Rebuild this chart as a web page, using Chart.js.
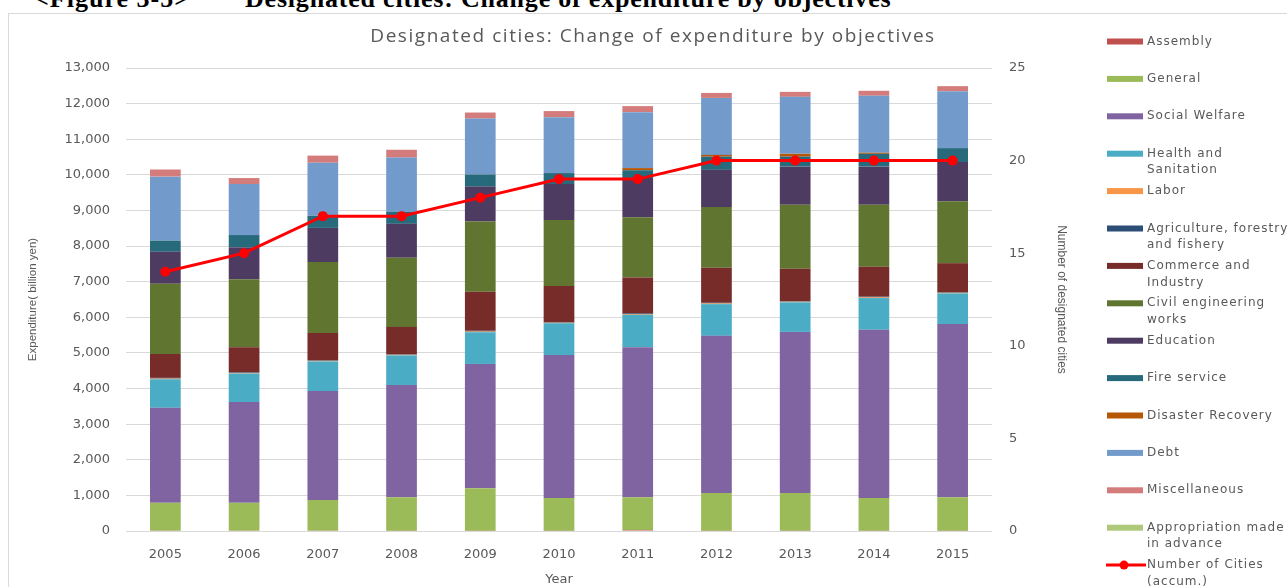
<!DOCTYPE html>
<html>
<head>
<meta charset="utf-8">
<script src="https://cdn.jsdelivr.net/npm/chart.js@4.4.1/dist/chart.umd.min.js"></script>
<style>
  body { margin: 0; background: #fff; overflow: hidden; }
  #wrap { position: relative; width: 1287px; height: 587px; overflow: hidden; }
  #frame { position: absolute; left: 8px; top: 13px; width: 1300px; height: 600px; border: 1px solid #d9d9d9; box-sizing: border-box; }
  .caption { position: absolute; top: -14px; font: bold 26px "Liberation Serif", serif; line-height: 26px; color: #000; white-space: nowrap; }
  canvas { position: absolute; left: 0; top: 0; }
</style>
</head>
<body>
<div id="wrap">
  <div id="frame"></div>
  <div class="caption" style="left:34px; letter-spacing:1px">&lt;Figure 3-5&gt;</div>
  <div class="caption" style="left:245px; letter-spacing:0.8px">Designated cities: Change of expenditure by objectives</div>
  <canvas id="chart" width="1287" height="587"></canvas>
</div>
<script>
const years = ["2005", "2006", "2007", "2008", "2009", "2010", "2011", "2012", "2013", "2014", "2015"];

// expenditure by objective, billion yen
const assembly    = [10, 10, 10, 10, 10, 10, 30, 10, 10, 10, 10];
const general     = [780, 780, 860, 940, 1190, 920, 920, 1060, 1060, 920, 940];
const welfare     = [2670, 2830, 3060, 3150, 3490, 4010, 4210, 4410, 4520, 4720, 4860];
const health      = [800, 800, 830, 830, 890, 890, 910, 890, 830, 890, 860];
const labor       = [20, 20, 20, 20, 20, 20, 20, 20, 20, 20, 20];
const agriculture = [20, 20, 20, 20, 20, 20, 20, 20, 20, 20, 20];
const commerce    = [670, 700, 760, 760, 1100, 1010, 1010, 980, 900, 840, 810];
const civil       = [1970, 1910, 1990, 1940, 1970, 1850, 1690, 1710, 1800, 1740, 1740];
const education   = [900, 900, 960, 955, 980, 1010, 1100, 1040, 1070, 1070, 1100];
const fire        = [310, 340, 340, 340, 340, 310, 220, 370, 280, 360, 390];
const disaster    = [0, 0, 0, 0, 0, 0, 60, 50, 80, 30, 0];
const debt        = [1800, 1430, 1490, 1520, 1570, 1570, 1570, 1600, 1600, 1600, 1600];
const misc        = [200, 170, 200, 220, 170, 170, 170, 140, 140, 140, 140];
const advance     = [0, 0, 0, 0, 0, 0, 0, 0, 0, 0, 0];

// number of designated cities (accumulated)
const cities = [14, 15, 17, 17, 18, 19, 19, 20, 20, 20, 20];

const seriesNames = ["Assembly", "General", "Social Welfare", "Health and Sanitation", "Labor",
  "Agriculture, forestry and fishery", "Commerce and Industry", "Civil engineering works", "Education",
  "Fire service", "Disaster Recovery", "Debt", "Miscellaneous", "Appropriation made in advance"];
const legendLabels = [["Assembly"], ["General"], ["Social Welfare"], ["Health and", "Sanitation"], ["Labor"],
  ["Agriculture, forestry", "and fishery"], ["Commerce and", "Industry"], ["Civil engineering", "works"],
  ["Education"], ["Fire service"], ["Disaster Recovery"], ["Debt"], ["Miscellaneous"],
  ["Appropriation made", "in advance"], ["Number of Cities", "(accum.)"]];
const seriesColors = ["#c0504d", "#9bbb59", "#8064a2", "#4bacc6", "#f79646", "#2c4d75", "#772c2a",
  "#5f7530", "#4d3b62", "#276a7c", "#b65708", "#729aca", "#d47b7b", "#afc97a"];

const barSeries = [assembly, general, welfare, health, labor, agriculture, commerce, civil,
  education, fire, disaster, debt, misc, advance];

const datasets = barSeries.map((data, i) => ({
  type: "bar",
  label: seriesNames[i],
  data,
  backgroundColor: seriesColors[i],
  yAxisID: "y",
  stack: "exp",
  order: 2,
  barPercentage: 0.39,
  categoryPercentage: 1
}));

datasets.push({
  type: "line",
  label: "Number of Cities (accum.)",
  data: cities,
  yAxisID: "y2",
  borderColor: "#ff0000",
  backgroundColor: "#ff0000",
  pointBackgroundColor: "#ff0000",
  borderWidth: 3,
  pointRadius: 4,
  pointBorderWidth: 2,
  tension: 0,
  order: 1
});

const grey = "#595959";

// chart title and the legend on the right, drawn onto the same canvas
const decor = {
  id: "decor",
  afterDraw(chart) {
    const ctx = chart.ctx;
    ctx.save();
    ctx.fillStyle = grey;
    ctx.font = '19px "Open Sans"';
    ctx.letterSpacing = "1.55px";
    ctx.textAlign = "center";
    ctx.textBaseline = "middle";
    ctx.fillText("Designated cities: Change of expenditure by objectives", 653, 37);

    ctx.textAlign = "left";
    ctx.font = '12px "DejaVu Sans"';
    ctx.letterSpacing = "1px";
    chart.data.datasets.forEach((ds, i) => {
      const y = 41.5 + i * 37.4;
      if (ds.type === "line") {
        ctx.strokeStyle = ds.borderColor;
        ctx.lineWidth = 3;
        ctx.beginPath();
        ctx.moveTo(1106, y);
        ctx.lineTo(1146, y);
        ctx.stroke();
        ctx.fillStyle = ds.borderColor;
        ctx.beginPath();
        ctx.arc(1124, y, 4.5, 0, Math.PI * 2);
        ctx.fill();
      } else {
        ctx.fillStyle = ds.backgroundColor;
        ctx.fillRect(1107, y - 3, 36, 6);
      }
      ctx.fillStyle = grey;
      legendLabels[i].forEach((t, k) => ctx.fillText(t, 1147, y + k * 16.5));
    });
    ctx.restore();
  }
};

new Chart(document.getElementById("chart"), {
  data: { labels: years, datasets },
  plugins: [decor],
  options: {
    responsive: false,
    animation: false,
    layout: { padding: { left: 0, top: 68, right: 215, bottom: 0 } },
    plugins: { legend: { display: false }, title: { display: false }, tooltip: { enabled: false } },
    scales: {
      x: {
        stacked: true,
        grid: { display: false },
        border: { display: false },
        ticks: { color: grey, padding: 8, font: { family: "DejaVu Sans", size: 13 } },
        title: { display: true, text: "Year", color: grey, padding: { top: 0, bottom: 0 }, font: { family: "DejaVu Sans", size: 13 } },
        afterFit: s => { s.height = 56; }
      },
      y: {
        stacked: true,
        position: "left",
        min: 0,
        max: 13000,
        ticks: {
          stepSize: 1000,
          color: grey,
          padding: 16,
          font: { family: "DejaVu Sans", size: 13 },
          callback: v => v.toLocaleString("en-US")
        },
        grid: { color: "#d9d9d9", drawTicks: false },
        border: { display: false },
        title: { display: true, text: "Expenditure( billion yen)", color: grey, padding: { top: 26, bottom: 0 }, font: { family: "Liberation Sans", size: 11.5 } },
        afterFit: s => { s.width = 126; }
      },
      y2: {
        position: "right",
        min: 0,
        max: 25,
        ticks: { stepSize: 5, color: grey, padding: 17, font: { family: "DejaVu Sans", size: 13 } },
        grid: { display: false, drawTicks: false },
        border: { display: false },
        title: { display: true, text: "Number of designated cities", color: grey, padding: { top: 3, bottom: 0 }, font: { family: "Liberation Sans", size: 12 } },
        afterFit: s => { s.width = 80; }
      }
    }
  }
});
</script>
</body>
</html>
